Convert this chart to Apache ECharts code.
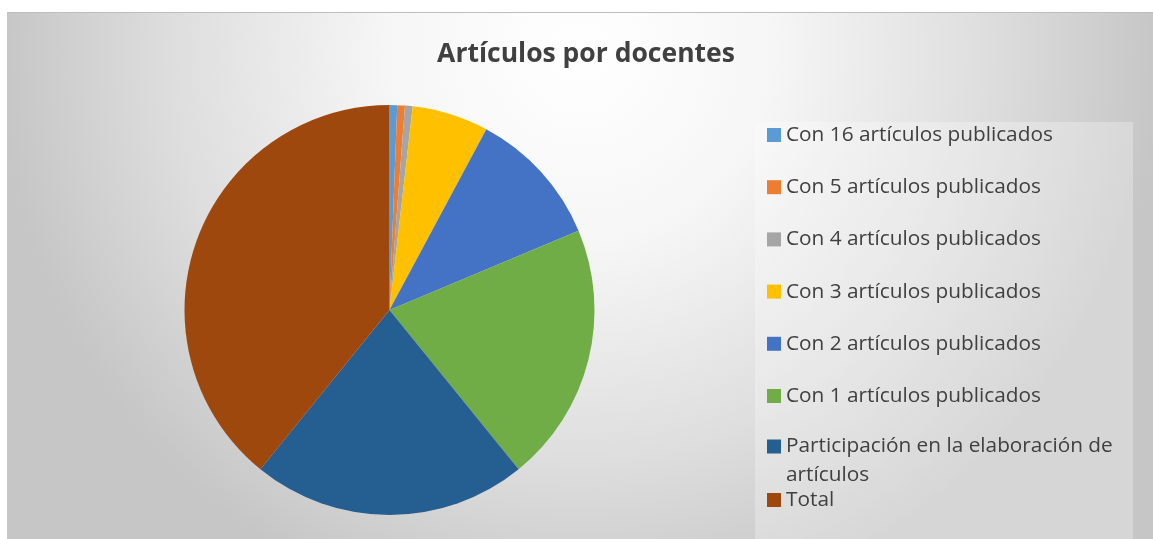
<!DOCTYPE html>
<html>
<head>
<meta charset="utf-8">
<script src="https://cdn.jsdelivr.net/npm/echarts@6/dist/echarts.min.js"></script>
<style>
html,body{margin:0;padding:0;background:#fff;width:1153px;height:539px;overflow:hidden}
#c{position:absolute;left:7px;top:12px;width:1146px;height:527px}
#line{position:absolute;left:7px;top:12px;width:1146px;height:1px;background:#bdbdbd;z-index:5}
</style>
</head>
<body>
<div id="c"></div>
<div id="line"></div>
<script>
const titleText = 'Artículos por docentes';
const categories = [
  'Con 16 artículos publicados',
  'Con 5 artículos publicados',
  'Con 4 artículos publicados',
  'Con 3 artículos publicados',
  'Con 2 artículos publicados',
  'Con 1 artículos publicados',
  'Participación en la elaboración de artículos',
  'Total'
];
const values = [1, 1, 1, 10, 18, 34, 36, 65];
const colors = ['#5B9BD5', '#ED7D31', '#A5A5A5', '#FFC000', '#4472C4', '#70AD47', '#255E91', '#9E480E'];

const FONT = '"Open Sans", sans-serif';
const textColor = '#404040';
const legendText = { color: textColor, fontFamily: FONT, fontSize: 20.8, lineHeight: 29 };

const chart = echarts.init(document.getElementById('c'), null, { renderer: 'canvas' });
chart.setOption({
  animation: false,
  backgroundColor: {
    type: 'radial', global: true, x: 573, y: 40, r: 580,
    colorStops: [
      { offset: 0, color: '#ffffff' },
      { offset: 0.33, color: '#f6f6f6' },
      { offset: 0.7, color: '#dedede' },
      { offset: 1, color: '#c6c6c6' }
    ]
  },
  color: colors,
  title: {
    text: titleText, left: 574, top: 24, textAlign: 'center',
    textStyle: { color: textColor, fontFamily: FONT, fontWeight: 'bold', fontSize: 26.5 }
  },
  graphic: [{
    type: 'rect', shape: { x: 748, y: 110, width: 378, height: 420 },
    style: { fill: 'rgba(255,255,255,0.28)' }, z: -1, silent: true
  }],
  legend: [
    {
      orient: 'vertical', left: 760, top: 108.5, padding: 0, itemGap: 23.2,
      itemWidth: 14, itemHeight: 14, icon: 'rect',
      data: categories.slice(0, 6), textStyle: legendText, selectedMode: false
    },
    {
      orient: 'vertical', left: 760, top: 391, padding: 0,
      itemWidth: 14, itemHeight: 14, icon: 'rect',
      data: [categories[6]],
      formatter: function (n) { return '\nParticipación en la elaboración de\nartículos'; },
      textStyle: legendText, selectedMode: false
    },
    {
      orient: 'vertical', left: 760, top: 473.5, padding: 0,
      itemWidth: 14, itemHeight: 14, icon: 'rect',
      data: [categories[7]], textStyle: legendText, selectedMode: false
    }
  ],
  series: [{
    type: 'pie',
    center: [382.5, 298],
    radius: 205,
    startAngle: 90,
    clockwise: true,
    label: { show: false },
    labelLine: { show: false },
    emphasis: { disabled: true },
    itemStyle: { borderWidth: 0 },
    data: categories.map((n, i) => ({ name: n, value: values[i] }))
  }]
});
</script>
</body>
</html>
